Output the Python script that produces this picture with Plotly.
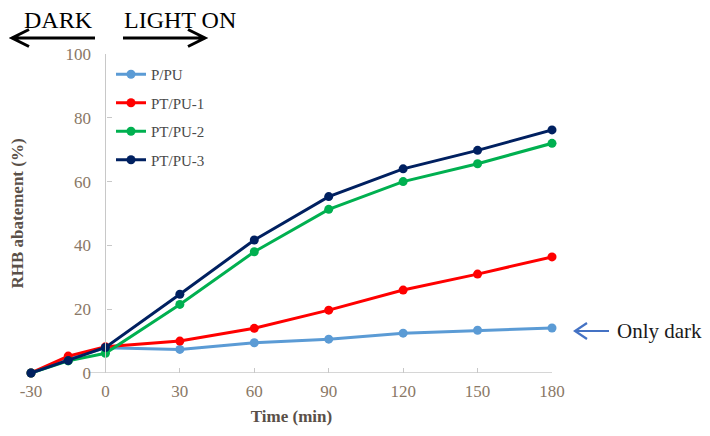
import plotly.graph_objects as go

time_min = [-30, -15, 0, 30, 60, 90, 120, 150, 180]
x_tick_vals = [-30, 0, 30, 60, 90, 120, 150, 180]
x_tick_text = ["-30", "0", "30", "60", "90", "120", "150", "180"]
y_tick_vals = [0, 20, 40, 60, 80, 100]

series_names = ["P/PU", "PT/PU-1", "PT/PU-2", "PT/PU-3"]
p_pu = [0, 4.5, 7.9, 7.4, 9.5, 10.6, 12.5, 13.4, 14.1]
pt_pu_1 = [0, 5.3, 8.2, 10.0, 14.0, 19.7, 26.0, 31.0, 36.4]
pt_pu_2 = [0, 3.8, 6.2, 21.5, 38.0, 51.3, 60.0, 65.6, 72.0]
pt_pu_3 = [0, 3.9, 8.0, 24.7, 41.7, 55.3, 64.0, 69.8, 76.2]
series_values = [p_pu, pt_pu_1, pt_pu_2, pt_pu_3]
series_colors = ["#5B9BD5", "#FF0000", "#00B050", "#002060"]

SERIF = "Liberation Serif, Times New Roman, serif"
TICK_COLOR = "#8a7866"
TITLE_COLOR = "#5a5048"
AXIS_COLOR = "#C8C8C8"

# page body has an 8px default margin; compensate
OFF = 8
W, H = 710 - OFF, 436 - OFF
L, T = 31 - OFF, 54 - OFF
PW, PH = 521, 319
R, B = W - L - PW, H - T - PH
XMIN, XMAX = -30, 180


def P(px, py):
    """page pixel -> paper coordinates"""
    return ((px - OFF - L) / PW, (T + PH - (py - OFF)) / PH)


fig = go.Figure()
for name, vals, col in zip(series_names, series_values, series_colors):
    fig.add_trace(go.Scatter(
        x=time_min, y=vals, name=name, mode="lines+markers",
        line=dict(color=col, width=3),
        marker=dict(color=col, size=9),
        legendgroup=name, cliponaxis=False,
    ))


def path_from(points_list):
    parts = []
    for seg in points_list:
        for i, (px, py) in enumerate(seg):
            x, y = P(px, py)
            parts.append(("M" if i == 0 else "L") + f" {x:.5f},{y:.5f}")
    return " ".join(parts)


shapes = [
    dict(type="line", xref="x", yref="y", x0=-7, x1=180, y0=0, y1=0,
         line=dict(color=AXIS_COLOR, width=1.3), layer="below"),
    dict(type="path", xref="paper", yref="paper",
         path=path_from([[(95, 38), (12, 38)], [(29, 29.5), (12, 38), (29, 46.5)]]),
         line=dict(color="black", width=3)),
    dict(type="path", xref="paper", yref="paper",
         path=path_from([[(123, 38), (205, 38)], [(188, 29.5), (205, 38), (188, 46.5)]]),
         line=dict(color="black", width=3)),
    dict(type="path", xref="paper", yref="paper",
         path=path_from([[(609, 331), (575, 331)], [(587, 323), (575, 331), (587, 339)]]),
         line=dict(color="#4472C4", width=2.2)),
]

annotations = []
for txt, px, py, size in [("DARK", 58, 20, 24), ("LIGHT ON", 180, 20, 24)]:
    x, y = P(px, py)
    annotations.append(dict(text=txt, x=x, y=y, xref="paper", yref="paper",
                            showarrow=False, xanchor="center", yanchor="middle",
                            font=dict(family=SERIF, size=size, color="black")))
x, y = P(615, 331)
annotations.append(dict(text="Only dark", x=x, y=y, xref="paper", yref="paper",
                        showarrow=False, xanchor="left", yanchor="middle",
                        font=dict(family=SERIF, size=21, color="#1a1a1a")))

lx, ly = P(111, 58)

fig.update_layout(
    width=W, height=H,
    margin=dict(l=L, r=R, t=T, b=B, autoexpand=False),
    paper_bgcolor="white", plot_bgcolor="white",
    font=dict(family=SERIF, color=TICK_COLOR),
    showlegend=True,
    legend=dict(x=lx, y=ly, xanchor="left", yanchor="top",
                bgcolor="rgba(0,0,0,0)", tracegroupgap=6,
                font=dict(family=SERIF, size=15, color="#4a4a4a")),
    xaxis=dict(range=[XMIN, XMAX], tickvals=x_tick_vals, ticktext=x_tick_text,
               showgrid=False, zeroline=False, showline=False,
               ticks="inside", ticklen=5, tickcolor=AXIS_COLOR,
               tickfont=dict(family=SERIF, size=17, color=TICK_COLOR),
               ticklabelstandoff=6,
               title=dict(text="<b>Time (min)</b>", standoff=10,
                          font=dict(family=SERIF, size=17, color=TITLE_COLOR))),
    yaxis=dict(range=[0, 100], tickvals=y_tick_vals,
               anchor="free", position=(0 - XMIN) / (XMAX - XMIN),
               showgrid=False, zeroline=False, showline=True,
               linecolor=AXIS_COLOR, linewidth=1.3,
               ticks="inside", ticklen=5, tickcolor=AXIS_COLOR,
               tickfont=dict(family=SERIF, size=17, color=TICK_COLOR),
               ticklabelstandoff=11,
               title=dict(text="<b>RHB abatement (%)</b>", standoff=38,
                          font=dict(family=SERIF, size=17, color=TITLE_COLOR))),
    shapes=shapes,
    annotations=annotations,
)

fig.write_html("out.html")
